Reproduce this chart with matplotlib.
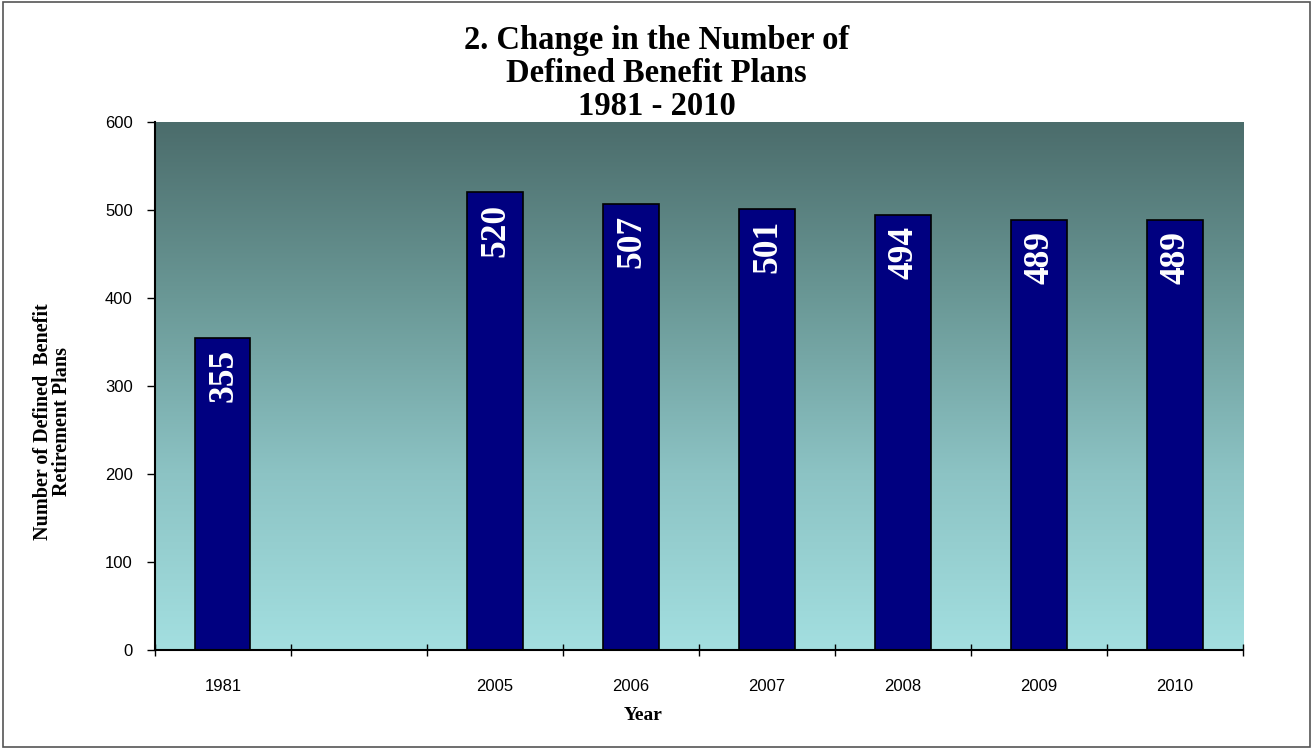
import numpy as np
import matplotlib.pyplot as plt
from matplotlib.colors import LinearSegmentedColormap
from matplotlib.patches import Rectangle

# Datos del gráfico
anios = ['1981', '', '2005', '2006', '2007', '2008', '2009', '2010']
planes = [355, None, 520, 507, 501, 494, 489, 489]

fig = plt.figure(figsize=(13.13, 7.48), dpi=100)
ax = fig.add_axes([0.118, 0.131, 0.8287, 0.706])

# Fondo degradado
cmap = LinearSegmentedColormap.from_list('fondo', ['#a3dfe0', '#8cc3c4', '#6a9896', '#4b6c6b'])
grad = np.linspace(0, 1, 256).reshape(-1, 1)
ax.imshow(grad, cmap=cmap, aspect='auto', extent=[0, 1, 0, 1], origin='lower',
          transform=ax.transAxes, zorder=0)

x = np.arange(len(anios))
for xi, v in zip(x, planes):
    if v is None:
        continue
    ax.bar(xi, v, width=0.405, color='#000080', edgecolor='black', linewidth=1.2, zorder=2)
    ax.annotate(str(v), (xi, v), xytext=(1, -8), textcoords='offset points',
                rotation=90, ha='center', va='top', color='white', fontsize=25.5,
                fontweight='bold', family='Liberation Serif', zorder=3)

ax.set_xlim(-0.5, len(anios) - 0.5)
ax.set_ylim(0, 600)
ax.set_xticks(x)
ax.set_xticklabels(anios, fontsize=12, family='Liberation Sans')
ax.set_xticks(np.arange(len(anios) + 1) - 0.5, minor=True)
ax.tick_params(axis='x', which='major', length=0, pad=21)
ax.tick_params(axis='x', which='minor', length=8, direction='inout', width=1)
ax.set_yticks(np.arange(0, 601, 100))
ax.set_yticklabels([str(v) for v in range(0, 601, 100)], fontsize=12, family='Liberation Sans')
ax.tick_params(axis='y', length=6, direction='out', width=1, pad=10)

for lado in ['top', 'right']:
    ax.spines[lado].set_visible(False)
ax.spines['left'].set_linewidth(1.5)
ax.spines['bottom'].set_linewidth(1.5)

ax.set_xlabel('Year', fontsize=14, fontweight='bold', family='Liberation Serif')
ax.xaxis.set_label_coords(0.4485, -0.108)
ax.set_ylabel('Number of Defined  Benefit\nRetirement Plans', fontsize=14.5, fontweight='bold',
              family='Liberation Serif', linespacing=0.92)
ax.yaxis.set_label_coords(-0.076, 0.432)

fig.text(0.5, 0.966, '2. Change in the Number of\nDefined Benefit Plans\n1981 - 2010',
         ha='center', va='top', fontsize=23.5, fontweight='bold', family='Liberation Serif',
         linespacing=1.08)

# Marco exterior
fig.patches.append(Rectangle((0.002, 0.002), 0.996, 0.995, transform=fig.transFigure,
                             fill=False, edgecolor='#555555', linewidth=1.2))

fig.savefig('out.png', dpi=100)
